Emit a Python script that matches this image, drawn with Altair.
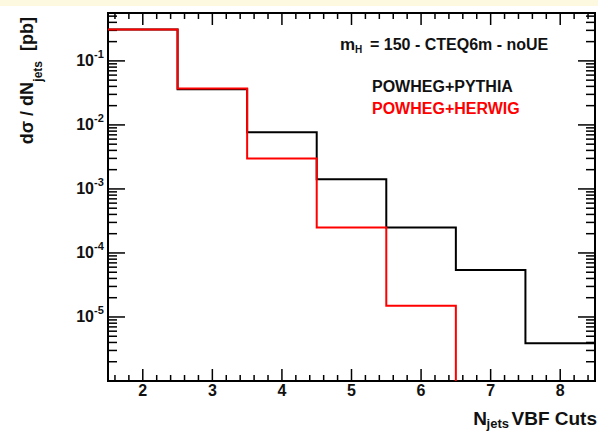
import altair as alt
import pandas as pd

# ---- data ----
bin_edges = [1.5, 2.5, 3.5, 4.5, 5.5, 6.5, 7.5, 8.5]
pythia_vals = [0.31, 0.036, 0.0077, 0.00142, 2.5e-4, 5.4e-5, 3.9e-6]
herwig_vals = [0.31, 0.037, 0.0030, 2.5e-4, 1.5e-5, 0.0, 0.0]

x_tick_labels = [2, 3, 4, 5, 6, 7, 8]
y_decades = [1e-6, 1e-5, 1e-4, 1e-3, 1e-2, 1e-1]
y_label_values = [1e-1, 1e-2, 1e-3, 1e-4, 1e-5]
y_label_exps = ["-1", "-2", "-3", "-4", "-5"]

W, H = 487, 368
FONT = "Liberation Sans"
Y_MIN, Y_MAX = 1e-6, 0.56
FLOOR = 1e-8  # zero bins drawn below the visible range (clipped)


def step_frame(vals, series):
    ys = [v if v > 0 else FLOOR for v in vals]
    rows = []
    for i, e in enumerate(bin_edges[:-1]):
        rows.append({"x": e, "y": ys[i], "s": series})
        if vals[i] == 0:
            break
    else:
        rows.append({"x": bin_edges[-1], "y": ys[-1], "s": series})
    return pd.DataFrame(rows)


pyth_df = step_frame(pythia_vals, "POWHEG+PYTHIA")
herw_df = step_frame(herwig_vals, "POWHEG+HERWIG")

xscale = alt.Scale(domain=[1.5, 8.5], nice=False, zero=False)
yscale = alt.Scale(type="log", domain=[Y_MIN, Y_MAX], nice=False)

X = lambda f: alt.X(f, type="quantitative", scale=xscale, axis=None)
Y = lambda f: alt.Y(f, type="quantitative", scale=yscale, axis=None)

# tick positions
x_major = x_tick_labels
x_minor = [round(1.6 + 0.2 * k, 2) for k in range(0, 35)]
x_minor = [v for v in x_minor if v < 8.5 and abs(v - round(v)) > 1e-6]
y_major = y_decades
y_minor = [m * d for d in y_decades for m in range(2, 10) if m * d <= Y_MAX]

xmaj_df = pd.DataFrame({"v": x_major})
xmin_df = pd.DataFrame({"v": x_minor})
ymaj_df = pd.DataFrame({"v": y_major})
ymin_df = pd.DataFrame({"v": y_minor})

TW = 1.5
layers = []

# yellow band at very top of the page
layers.append(
    alt.Chart(pd.DataFrame({"a": [0]})).mark_rect(color="#fdf9e0").encode(
        x=alt.value(-108), x2=alt.value(W + 3), y=alt.value(-13), y2=alt.value(-7)
    )
)


def xticks(df, length):
    base = alt.Chart(df).mark_rule(color="black", strokeWidth=TW)
    return [
        base.encode(x=X("v"), y=alt.value(H), y2=alt.value(H - length)),
        base.encode(x=X("v"), y=alt.value(0), y2=alt.value(length)),
    ]


def yticks(df, length):
    base = alt.Chart(df).mark_rule(color="black", strokeWidth=TW)
    return [
        base.encode(y=Y("v"), x=alt.value(0), x2=alt.value(length)),
        base.encode(y=Y("v"), x=alt.value(W), x2=alt.value(W - length)),
    ]


layers += xticks(xmaj_df, 12)
layers += xticks(xmin_df, 6)
layers += yticks(ymaj_df, 17)
layers += yticks(ymin_df, 9)

# histograms
layers.append(
    alt.Chart(pyth_df).mark_line(interpolate="step-after", color="black", strokeWidth=2, clip=True).encode(
        x=X("x"), y=Y("y")
    )
)
layers.append(
    alt.Chart(herw_df).mark_line(interpolate="step-after", color="#ff0000", strokeWidth=2, clip=True).encode(
        x=X("x"), y=Y("y")
    )
)

# x tick labels
layers.append(
    alt.Chart(pd.DataFrame({"v": x_tick_labels, "t": [str(v) for v in x_tick_labels]})).mark_text(
        font=FONT, fontSize=16, fontWeight="bold", baseline="middle", align="center", color="#111"
    ).encode(x=X("v"), y=alt.value(H + 10), text="t:N")
)

# y tick labels: "10" + superscript exponent
ylab_df = pd.DataFrame({"v": y_label_values, "e": y_label_exps, "b": ["10"] * len(y_label_values)})
layers.append(
    alt.Chart(ylab_df).mark_text(
        font=FONT, fontSize=16, fontWeight="bold", baseline="middle", align="right", color="#111"
    ).encode(y=Y("v"), x=alt.value(-14), text="b:N")
)
layers.append(
    alt.Chart(ylab_df).mark_text(
        font=FONT, fontSize=11, fontWeight="bold", baseline="middle", align="left", dy=-6, color="#111"
    ).encode(y=Y("v"), x=alt.value(-14), text="e:N")
)


def txt(s, x, y, size=16, color="#111", align="left", baseline="middle", angle=0, dy=0):
    kw = dict(font=FONT, fontSize=size, fontWeight="bold", align=align, baseline=baseline, color=color)
    if angle:
        kw["angle"] = angle
    if dy:
        kw["dy"] = dy
    return alt.Chart(pd.DataFrame({"t": [s]})).mark_text(**kw).encode(
        x=alt.value(x), y=alt.value(y), text="t:N"
    )


# in-plot annotations
layers.append(txt("m", 232, 32, size=17))
layers.append(txt("H", 247, 32, size=10, dy=5))
layers.append(txt("= 150 - CTEQ6m - noUE", 262, 32))
layers.append(txt("POWHEG+PYTHIA", 264, 74))
layers.append(txt("POWHEG+HERWIG", 264, 96, color="#ff0000"))

# x axis title
layers.append(txt("VBF Cuts", 489, 406, size=19, align="right"))
layers.append(txt("jets", 401, 406, size=13, align="right", dy=5))
layers.append(txt("N", 379, 406, size=19, align="right"))

# y axis title (rotated)
layers.append(txt("d\u03c3 / dN", -75, 69, size=18, align="right", baseline="alphabetic", angle=270))
layers.append(txt("jets", -66, 48, size=12, align="right", baseline="alphabetic", angle=270))
layers.append(txt("[pb]", -75, 4, size=18, align="right", baseline="alphabetic", angle=270))

chart = alt.layer(*layers).properties(
    width=W,
    height=H,
    padding={"left": 108, "top": 13, "right": 3, "bottom": 55},
    autosize=alt.AutoSizeParams(type="none"),
    background="white",
).configure_view(stroke="black", strokeWidth=2)

chart.save("out.html", embed_options={"renderer": "svg", "actions": False})
